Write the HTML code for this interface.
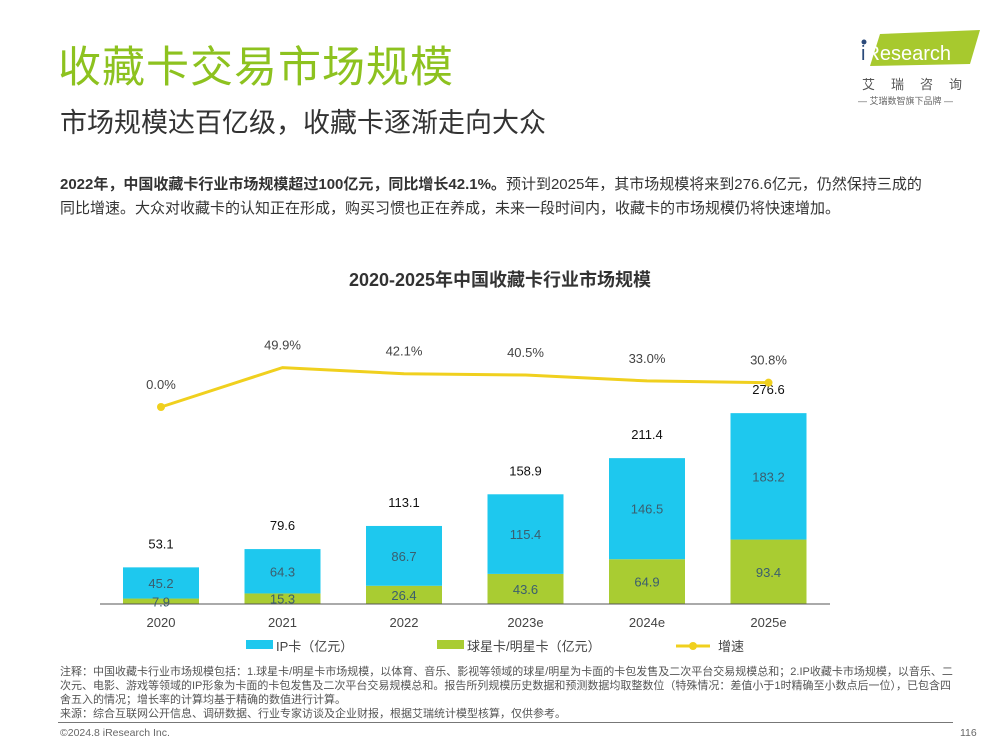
<!DOCTYPE html>
<html><head><meta charset="utf-8">
<style>
body{margin:0;width:1000px;height:750px;background:#fff;font-family:"Liberation Sans","Noto Sans CJK SC",sans-serif;position:relative;overflow:hidden}
.abs{position:absolute}
</style></head><body>
<div class="abs" style="left:58px;top:38px;font-size:43px;color:#8dc21f;letter-spacing:1px;line-height:60px">收藏卡交易市场规模</div>
<div class="abs" style="left:60px;top:103px;font-size:27px;color:#333;line-height:40px">市场规模达百亿级，收藏卡逐渐走向大众</div>
<div class="abs" style="left:858px;top:30px;width:130px;height:80px">
 <svg width="130" height="40" style="position:absolute;left:0;top:0"><polygon points="22,4 122,0 112,34 12,36" fill="#a7c92e"/><circle cx="6" cy="12" r="2.5" fill="#2b4a7a"/><text x="3" y="30" font-size="20" fill="#fff" font-family="Liberation Sans"><tspan fill="#2b4a7a">i</tspan>Research</text></svg>
 <div style="position:absolute;left:4px;top:44px;font-size:13px;color:#555;letter-spacing:16px">艾瑞咨询</div>
 <div style="position:absolute;left:0;top:64px;font-size:9px;color:#666">— 艾瑞数智旗下品牌 —</div>
</div>
<div class="abs" style="left:60px;top:173px;width:872px;font-size:15px;color:#333;line-height:24px"><b>2022年，中国收藏卡行业市场规模超过100亿元，同比增长42.1%。</b>预计到2025年，其市场规模将来到276.6亿元，仍然保持三成的同比增速。大众对收藏卡的认知正在形成，购买习惯也正在养成，未来一段时间内，收藏卡的市场规模仍将快速增加。</div>
<div class="abs" style="left:0;width:1000px;text-align:center;top:266px;font-size:18px;font-weight:bold;color:#333">2020-2025年中国收藏卡行业市场规模</div>
<svg id="chart" class="abs" style="left:0;top:0" width="1000" height="750"></svg>
<div class="abs" style="left:60px;top:665px;width:900px;font-size:11px;color:#555;line-height:14px">注释：中国收藏卡行业市场规模包括：1.球星卡/明星卡市场规模，以体育、音乐、影视等领域的球星/明星为卡面的卡包发售及二次平台交易规模总和；2.IP收藏卡市场规模，以音乐、二次元、电影、游戏等领域的IP形象为卡面的卡包发售及二次平台交易规模总和。报告所列规模历史数据和预测数据均取整数位（特殊情况：差值小于1时精确至小数点后一位），已包含四舍五入的情况；增长率的计算均基于精确的数值进行计算。<br>来源：综合互联网公开信息、调研数据、行业专家访谈及企业财报，根据艾瑞统计模型核算，仅供参考。</div>
<div class="abs" style="left:58px;top:722px;width:895px;height:1px;background:#777"></div>
<div class="abs" style="left:60px;top:727px;font-size:10.5px;color:#666">©2024.8 iResearch Inc.</div>
<div class="abs" style="left:960px;top:727px;font-size:10.5px;color:#666">116</div>
<script>
const categories=["2020","2021","2022","2023e","2024e","2025e"];
const ipValues=[45.2,64.3,86.7,115.4,146.5,183.2];
const starValues=[7.9,15.3,26.4,43.6,64.9,93.4];
const totals=["53.1","79.6","113.1","158.9","211.4","276.6"];
const growth=[0.0,49.9,42.1,40.5,33.0,30.8];
const svg=document.getElementById('chart');
const NS='http://www.w3.org/2000/svg';
const base=604,x0=161,step=121.5,bw=76,ky=0.69;
const gBase=407,kg=0.79;
const xs=i=>x0+i*step;
const ys=v=>base-v*ky;
const yg=v=>gBase-v*kg;
function mk(t,a){const e=document.createElementNS(NS,t);for(const k in a)e.setAttribute(k,a[k]);svg.appendChild(e);return e;}
function tx(x,y,s,size,fill,anchor){const e=mk('text',{x:x,y:y,'font-size':size,fill:fill,'text-anchor':anchor||'middle','font-family':'Liberation Sans, Noto Sans CJK SC, sans-serif'});e.textContent=s;return e;}
categories.forEach((c,i)=>{
 const x=xs(i),s=starValues[i],p=ipValues[i];
 const g=mk('rect',{x:x-bw/2,y:ys(s),width:bw,height:s*ky,fill:'#a9cc32'});
 
 
 const b=mk('rect',{x:x-bw/2,y:ys(s+p),width:bw,height:p*ky,fill:'#1ec8ee'});
 
 
 const t1=tx(x,ys(s/2)+5,s.toFixed(1),13,'#3b5e6e');
 
 
 const t2=tx(x,ys(s+p/2)+5,p.toFixed(1),13,'#3b5e6e');
 
 
 const t3=tx(x,ys(s+p)-19,totals[i],13,'#111');
 
 
 const t4=tx(x,627,c,13,'#444');
 
 
 const t5=tx(x,yg(growth[i])-18,growth[i].toFixed(1)+'%',13,'#444');
 
 
});
const ax=mk('line',{x1:100,y1:base,x2:830,y2:base,stroke:'#555','stroke-width':1});


const pl=mk('polyline',{points:growth.map((v,i)=>xs(i)+','+yg(v)).join(' '),fill:'none',stroke:'#f0d01e','stroke-width':3});


[0,growth.length-1].forEach(i=>{const c=mk('circle',{cx:xs(i),cy:yg(growth[i]),r:4,fill:'#f0d01e'});
 
 });
let l=mk('rect',{x:246,y:640,width:27,height:9,fill:'#1ec8ee'});


l=tx(276,651,'IP卡（亿元）',13,'#444','start');


l=mk('rect',{x:437,y:640,width:27,height:9,fill:'#a9cc32'});


l=tx(467,651,'球星卡/明星卡（亿元）',13,'#444','start');


l=mk('line',{x1:676,y1:646,x2:710,y2:646,stroke:'#f0d01e','stroke-width':3});


l=mk('circle',{cx:693,cy:646,r:4,fill:'#f0d01e'});


l=tx(718,651,'增速',13,'#444','start');


</script>
</body></html>
